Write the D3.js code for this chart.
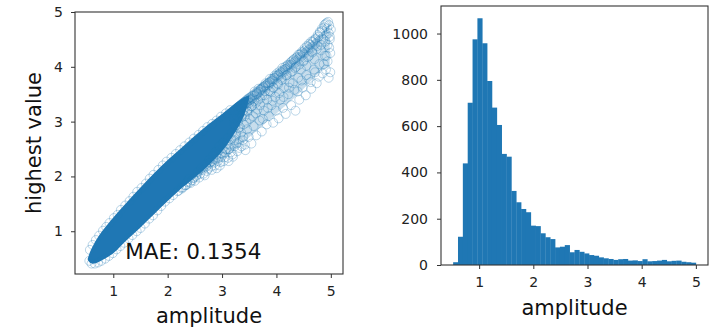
<!DOCTYPE html>
<html>
<head>
<meta charset="utf-8">
<script src="https://cdn.jsdelivr.net/npm/d3@7"></script>
<style>
  html, body { margin: 0; padding: 0; background: #fff; }
  svg { display: block; font-family: 'DejaVu Sans', sans-serif; }
  .tick text { fill: #222; }
  .tick line { stroke: #333; }
</style>
</head>
<body>
<div id="app"></div>
<script>
// histogram of amplitude, 50 bins between the min and max amplitude
const histEdgeMin = 0.52;
const histEdgeMax = 5.0;
const histCounts = [
  12, 122, 439, 701, 975, 1066, 958, 795, 680, 605,
  480, 468, 320, 271, 242, 228, 170, 168, 137, 120,
  112, 76, 79, 86, 55, 65, 57, 50, 43, 40,
  33, 29, 26, 22, 25, 26, 19, 20, 17, 25,
  16, 17, 19, 22, 16, 18, 19, 14, 12, 10,
];

// saturated core of the scatter cloud (thousands of overlapping circles)
const bandAmp = [0.53, 0.58, 0.64, 0.75, 1.0, 1.25, 1.5, 1.75, 2.0, 2.25, 2.5, 2.75, 3.0, 3.2, 3.4, 3.5];
const bandUpper = [0.5, 0.64, 0.76, 0.94, 1.25, 1.53, 1.8, 2.06, 2.3, 2.52, 2.74, 2.95, 3.14, 3.3, 3.44, 3.48];
const bandLower = [0.48, 0.42, 0.41, 0.45, 0.6, 0.84, 1.07, 1.31, 1.55, 1.78, 1.98, 2.2, 2.46, 2.74, 3.1, 3.42];

// half-dense part of the cloud where circles still overlap a lot
const stripAmp = [2.4, 2.8, 3.2, 3.6, 4.0, 4.4, 4.8, 4.98];
const stripUpper = [2.6, 2.97, 3.3, 3.62, 3.93, 4.26, 4.6, 4.74];
const stripLower = [1.9, 2.15, 2.45, 2.8, 3.15, 3.5, 3.9, 4.0];

// denser ridge just under the top edge of the cloud
const ridgeAmp = [3.2, 3.6, 4.0, 4.4, 4.8];
const ridgeUpper = [3.3, 3.62, 3.93, 4.26, 4.6];
const ridgeLower = [3.0, 3.35, 3.68, 4.02, 4.38];

// individual circles that stay visible: amplitude,highest value
const scatterPoints = `
0.57,0.66 0.62,0.75 0.68,0.84 0.74,0.92 0.81,1.01 0.87,1.08 0.93,1.15 1.01,1.24 1.08,1.30
1.14,1.39 1.22,1.47 1.30,1.55 1.37,1.63 1.44,1.72 1.52,1.79 1.60,1.87 1.67,1.96 1.74,2.03
1.83,2.12 1.91,2.20 1.98,2.27 2.07,2.34 2.15,2.41 2.23,2.48 2.31,2.55 2.40,2.62 2.48,2.69
2.57,2.76 2.65,2.83 2.73,2.90 2.82,2.96 2.90,3.02 2.98,3.09 3.07,3.15 3.15,3.21
0.56,0.46 0.60,0.41 0.66,0.41 0.72,0.43 0.78,0.46 0.85,0.50 0.92,0.55 0.99,0.60 1.06,0.67
1.13,0.73 1.20,0.79 1.28,0.87 1.35,0.93 1.43,1.00 1.50,1.06 1.58,1.14 1.66,1.23 1.73,1.29
1.81,1.38 1.88,1.46 1.95,1.54 2.03,1.60 2.10,1.66 2.18,1.73 2.26,1.78 2.33,1.84 2.41,1.90 2.48,1.98
2.20,1.74 2.28,1.80 2.35,1.85 2.38,1.95 2.45,1.93 2.52,2.00 2.55,2.08 2.58,1.98 2.62,2.15
2.66,2.05 2.70,2.22 2.72,2.10 2.76,2.30 2.80,2.18 2.83,2.38 2.85,2.25 2.88,2.45 2.90,2.15
2.93,2.33 2.95,2.55 2.97,2.26 3.00,2.42 3.02,2.62 3.05,2.35 3.08,2.50 3.10,2.70 3.12,2.28
3.14,2.58 3.16,2.44 3.18,2.80 3.20,2.36 3.22,2.66 3.24,2.92
2.25,1.80 2.32,1.84 2.36,1.90 2.42,1.88 2.47,1.97 2.50,1.92 2.54,2.03 2.60,2.05 2.64,2.12
2.68,2.02 2.71,2.18 2.74,2.14 2.78,2.26 2.81,2.12 2.84,2.32 2.87,2.20 2.89,2.40 2.92,2.28
2.94,2.48 2.96,2.20 2.99,2.36 3.01,2.52 3.03,2.28 3.06,2.44 3.09,2.60 3.11,2.34 3.13,2.50
3.17,2.68 3.19,2.40 3.23,2.55 3.26,2.78 3.28,2.46 3.31,2.62 3.33,2.90 3.36,2.55 3.39,2.72 3.42,2.58
3.21,3.18 3.22,3.05 3.23,2.95 3.24,3.22 3.25,2.74 3.26,3.12 3.27,2.60 3.28,3.25 3.29,3.00
3.30,2.88 3.31,3.28 3.32,2.52 3.33,3.15 3.34,3.30 3.35,2.80 3.36,3.08 3.37,3.33 3.38,2.66
3.39,3.20 3.40,2.95 3.41,3.36 3.42,3.10 3.43,2.48 3.44,3.27 3.45,3.39 3.46,2.86 3.47,3.18
3.48,3.42 3.49,2.72 3.50,3.34
3.51,3.05 3.52,3.44 3.54,2.60 3.55,3.28 3.56,3.47 3.58,2.92 3.59,3.38 3.60,3.55 3.62,3.15
3.63,2.75 3.64,3.50 3.66,3.40 3.67,3.60 3.69,3.02 3.70,3.30 3.71,3.58 3.73,2.82 3.74,3.48
3.76,3.64 3.77,3.20 3.79,3.56 3.80,3.70 3.82,2.95 3.83,3.40 3.85,3.66 3.86,3.10 3.88,3.78
3.89,3.55 3.91,3.30 3.92,3.74 3.94,2.98 3.95,3.62 3.97,3.84 3.98,3.45 3.99,3.20
4.01,3.88 4.03,3.68 4.04,3.06 4.06,3.92 4.07,3.40 4.09,3.80 4.11,3.98 4.12,3.25 4.14,3.62
4.16,3.96 4.17,3.14 4.19,3.85 4.21,4.04 4.22,3.50 4.24,3.72 4.26,4.08 4.27,3.30 4.29,3.92
4.31,4.12 4.33,3.58 4.35,3.20 4.36,4.00 4.38,4.18 4.40,3.80 4.42,3.40 4.43,4.22 4.45,3.95
4.47,4.28 4.48,3.62 4.50,4.10
4.52,4.30 4.54,3.48 4.55,4.02 4.57,4.36 4.59,3.78 4.60,4.20 4.62,4.40 4.64,3.60 4.65,4.28
4.67,4.45 4.69,3.95 4.70,4.14 4.72,4.50 4.74,3.70 4.75,4.38 4.77,4.55 4.79,4.05 4.80,4.62
4.82,4.30 4.84,4.66 4.85,3.88 4.86,4.50 4.88,4.72 4.89,4.20 4.90,4.78 4.91,3.95 4.92,4.58
4.93,4.70 4.94,4.40 4.95,4.82 4.96,3.80 4.96,4.62 4.97,4.76 4.98,4.50 4.99,4.25 5.00,4.68
3.32,3.22 3.36,3.26 3.40,3.30 3.44,3.34 3.48,3.38 3.52,3.40 3.56,3.42 3.60,3.48 3.64,3.52
3.68,3.54 3.72,3.60 3.76,3.62 3.80,3.66 3.84,3.70 3.88,3.72 3.92,3.78 3.96,3.80 4.00,3.84
4.04,3.86 4.08,3.90 4.12,3.94 4.16,4.00 4.20,4.02 4.24,4.04 4.28,4.10 4.32,4.14 4.36,4.16
4.40,4.22 4.44,4.24 4.48,4.26 4.52,4.34 4.56,4.38 4.60,4.42 4.64,4.46 4.68,4.48 4.72,4.52
4.76,4.58 4.80,4.64 4.84,4.70 4.88,4.76 4.92,4.80
3.38,3.14 3.46,3.20 3.54,3.28 3.62,3.34 3.70,3.42 3.78,3.48 3.86,3.56 3.94,3.62 4.02,3.70
4.10,3.76 4.18,3.84 4.26,3.90 4.34,3.98 4.42,4.04 4.50,4.12 4.58,4.18 4.66,4.26 4.74,4.32
4.82,4.40 4.90,4.46 4.98,4.55
3.45,2.98 3.57,3.10 3.65,3.22 3.75,3.05 3.84,3.25 3.93,3.38 4.05,3.52 4.13,3.45 4.23,3.62
4.30,3.70 4.39,3.55 4.46,3.75 4.55,3.85 4.63,3.72 4.71,3.90 4.78,3.82 4.87,4.05 4.94,4.10
4.99,3.90 4.97,4.35 4.92,4.20
`;

const ampTicks = [1, 2, 3, 4, 5];
const valueTicks = [1, 2, 3, 4, 5];
const countTicks = [0, 200, 400, 600, 800, 1000];
const maeLabel = 'MAE: 0.1354';

// axis limits (matplotlib style 5% margins)
const ampDomain = [0.296, 5.224];
const valueDomain = [0.22, 5.0];
const countDomain = [0, 1119];

const blue = '#1f77b4';

const points = scatterPoints
  .trim()
  .split(/\s+/)
  .map((s) => s.split(',').map(Number))
  .map(([amp, value]) => ({ amp, value }));

const toRows = (amps, upper, lower) =>
  amps.map((amp, i) => ({ amp, upper: upper[i], lower: lower[i] }));
const band = toRows(bandAmp, bandUpper, bandLower);
const strip = toRows(stripAmp, stripUpper, stripLower);
const ridge = toRows(ridgeAmp, ridgeUpper, ridgeLower);

const binWidth = (histEdgeMax - histEdgeMin) / histCounts.length;
const bins = histCounts.map((count, i) => ({
  x0: histEdgeMin + i * binWidth,
  x1: histEdgeMin + (i + 1) * binWidth,
  count,
}));

// canvas
const svg = d3
  .select('#app')
  .append('svg')
  .attr('width', 721)
  .attr('height', 330);

const leftBox = { x: 75, y: 12, w: 268, h: 262 };
const rightBox = { x: 441, y: 6, w: 267, h: 259 };
const tickFormat = d3.format('d');

// ---------- left: scatter ----------
const xLeft = d3.scaleLinear().domain(ampDomain).range([0, leftBox.w]);
const yLeft = d3.scaleLinear().domain(valueDomain).range([leftBox.h, 0]);

const leftBounds = svg
  .append('g')
  .attr('transform', `translate(${leftBox.x},${leftBox.y})`);

leftBounds
  .append('clipPath')
  .attr('id', 'left-clip')
  .append('rect')
  .attr('width', leftBox.w)
  .attr('height', leftBox.h);

const cloud = leftBounds.append('g').attr('clip-path', 'url(#left-clip)');

const bandArea = d3
  .area()
  .x((d) => xLeft(d.amp))
  .y0((d) => yLeft(d.lower))
  .y1((d) => yLeft(d.upper))
  .curve(d3.curveCatmullRom);

cloud
  .append('path')
  .attr('d', bandArea(strip))
  .attr('fill', blue)
  .attr('fill-opacity', 0.25);

cloud
  .append('path')
  .attr('d', bandArea(ridge))
  .attr('fill', blue)
  .attr('fill-opacity', 0.25);

cloud
  .append('path')
  .attr('d', bandArea(band))
  .attr('fill', blue);

cloud
  .selectAll('circle')
  .data(points)
  .join('circle')
  .attr('cx', (d) => xLeft(d.amp))
  .attr('cy', (d) => yLeft(d.value))
  .attr('r', 4.5)
  .attr('fill', 'none')
  .attr('stroke', blue)
  .attr('stroke-opacity', 0.3)
  .attr('stroke-width', 1);

leftBounds
  .append('text')
  .attr('x', xLeft(1.22))
  .attr('y', yLeft(0.49))
  .attr('font-size', 21.5)
  .attr('fill', '#111')
  .text(maeLabel);

leftBounds
  .append('g')
  .attr('transform', `translate(0,${leftBox.h})`)
  .call(
    d3.axisBottom(xLeft).tickValues(ampTicks).tickFormat(tickFormat).tickSize(4).tickPadding(8)
  );
leftBounds
  .append('g')
  .call(
    d3.axisLeft(yLeft).tickValues(valueTicks).tickFormat(tickFormat).tickSize(4).tickPadding(8)
  );

leftBounds
  .append('text')
  .attr('text-anchor', 'middle')
  .attr('x', leftBox.w / 2)
  .attr('y', 323 - leftBox.y)
  .attr('font-size', 21)
  .attr('fill', '#111')
  .text('amplitude');

leftBounds
  .append('text')
  .attr('text-anchor', 'middle')
  .attr('transform', `translate(${41 - leftBox.x},${leftBox.h / 2}) rotate(-90)`)
  .attr('font-size', 21)
  .attr('fill', '#111')
  .text('highest value');

leftBounds
  .append('rect')
  .attr('width', leftBox.w)
  .attr('height', leftBox.h)
  .attr('fill', 'none')
  .attr('stroke', '#333')
  .attr('stroke-width', 1.1);

// ---------- right: histogram ----------
const xRight = d3.scaleLinear().domain(ampDomain).range([0, rightBox.w]);
const yRight = d3.scaleLinear().domain(countDomain).range([rightBox.h, 0]);

const rightBounds = svg
  .append('g')
  .attr('transform', `translate(${rightBox.x},${rightBox.y})`);

rightBounds
  .selectAll('rect.bar')
  .data(bins)
  .join('rect')
  .attr('class', 'bar')
  .attr('x', (d) => xRight(d.x0))
  .attr('width', (d) => xRight(d.x1) - xRight(d.x0) + 0.3)
  .attr('y', (d) => yRight(d.count))
  .attr('height', (d) => yRight(0) - yRight(d.count))
  .attr('fill', blue);

rightBounds
  .append('g')
  .attr('transform', `translate(0,${rightBox.h})`)
  .call(
    d3.axisBottom(xRight).tickValues(ampTicks).tickFormat(tickFormat).tickSize(4).tickPadding(8)
  );
rightBounds
  .append('g')
  .call(
    d3.axisLeft(yRight).tickValues(countTicks).tickFormat(tickFormat).tickSize(4).tickPadding(9)
  );

rightBounds
  .append('text')
  .attr('text-anchor', 'middle')
  .attr('x', rightBox.w / 2)
  .attr('y', 315 - rightBox.y)
  .attr('font-size', 21)
  .attr('fill', '#111')
  .text('amplitude');

rightBounds
  .append('rect')
  .attr('width', rightBox.w)
  .attr('height', rightBox.h)
  .attr('fill', 'none')
  .attr('stroke', '#333')
  .attr('stroke-width', 1.1);

svg.selectAll('.domain').remove();
svg.selectAll('.tick text').attr('font-size', 14).attr('font-family', 'DejaVu Sans');
</script>
</body>
</html>
